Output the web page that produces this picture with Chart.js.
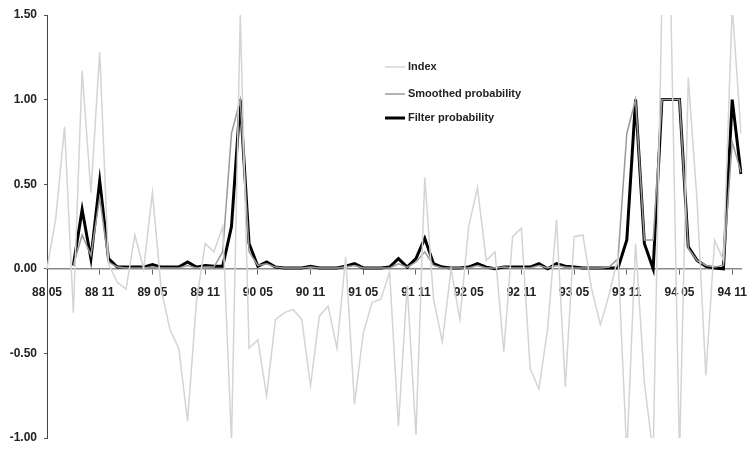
<!DOCTYPE html>
<html>
<head>
<meta charset="utf-8">
<script src="https://cdn.jsdelivr.net/npm/chart.js@4.4.1/dist/chart.umd.min.js"></script>
<style>
  html, body { margin: 0; padding: 0; background: #ffffff; }
  #wrap { width: 749px; height: 449px; position: relative; }
</style>
</head>
<body>
<div id="wrap"><canvas id="chart" width="749" height="449"></canvas></div>
<script>
// Monthly observations, May 1988 to December 1994
const months = [
  '88 05','88 06','88 07','88 08','88 09','88 10','88 11','88 12',
  '89 01','89 02','89 03','89 04','89 05','89 06','89 07','89 08','89 09','89 10','89 11','89 12',
  '90 01','90 02','90 03','90 04','90 05','90 06','90 07','90 08','90 09','90 10','90 11','90 12',
  '91 01','91 02','91 03','91 04','91 05','91 06','91 07','91 08','91 09','91 10','91 11','91 12',
  '92 01','92 02','92 03','92 04','92 05','92 06','92 07','92 08','92 09','92 10','92 11','92 12',
  '93 01','93 02','93 03','93 04','93 05','93 06','93 07','93 08','93 09','93 10','93 11','93 12',
  '94 01','94 02','94 03','94 04','94 05','94 06','94 07','94 08','94 09','94 10','94 11','94 12'
];

// Labelled months on the horizontal axis
const tickMonths = ['88 05','88 11','89 05','89 11','90 05','90 11','91 05','91 11',
                    '92 05','92 11','93 05','93 11','94 05','94 11'];

const indexValues = [
  0.00, 0.30, 0.84, -0.26, 1.17, 0.45, 1.28, 0.03,
  -0.08, -0.12, 0.20, 0.00, 0.45, -0.12, -0.36, -0.47, -0.90, -0.20, 0.15, 0.10,
  0.25, -1.02, 1.50, -0.47, -0.42, -0.75, -0.30, -0.26, -0.24, -0.30, -0.69, -0.28,
  -0.22, -0.47, 0.07, -0.80, -0.38, -0.20, -0.18, -0.02, -0.93, -0.10, -0.98, 0.54,
  -0.18, -0.43, 0.00, -0.30, 0.25, 0.48, 0.05, 0.10, -0.49, 0.19, 0.24, -0.59,
  -0.71, -0.35, 0.29, -0.70, 0.19, 0.20, -0.12, -0.33, -0.15, 0.07, -1.10, 0.15,
  -0.67, -1.10, 1.60, 1.60, -1.10, 1.13, 0.40, -0.63, 0.17, 0.05, 1.55, 0.80
];

const smoothedProb = [
  null, null, null, 0.02, 0.20, 0.08, 0.42, 0.04,
  0.01, 0.005, 0.005, 0.005, 0.01, 0.005, 0.005, 0.005, 0.02, 0.005, 0.01, 0.01,
  0.10, 0.80, 1.00, 0.10, 0.02, 0.03, 0.01, 0.005, 0.005, 0.005, 0.01, 0.005,
  0.005, 0.005, 0.01, 0.02, 0.005, 0.005, 0.005, 0.005, 0.03, 0.01, 0.04, 0.10,
  0.02, 0.005, 0.005, 0.005, 0.005, 0.02, 0.005, 0.005, 0.01, 0.005, 0.005, 0.005,
  0.02, 0.005, 0.02, 0.01, 0.005, 0.005, 0.005, 0.005, 0.01, 0.06, 0.80, 1.00,
  0.17, 0.17, 1.00, 1.00, 1.00, 0.12, 0.05, 0.02, 0.01, 0.02, 0.75, 0.57
];

const filterProb = [
  null, null, null, 0.02, 0.35, 0.06, 0.52, 0.06,
  0.01, 0.01, 0.01, 0.01, 0.025, 0.01, 0.01, 0.01, 0.04, 0.01, 0.02, 0.015,
  0.015, 0.25, 1.00, 0.15, 0.015, 0.04, 0.01, 0.005, 0.005, 0.005, 0.015, 0.005,
  0.005, 0.005, 0.015, 0.03, 0.005, 0.005, 0.005, 0.01, 0.06, 0.01, 0.06, 0.18,
  0.03, 0.01, 0.005, 0.005, 0.01, 0.03, 0.01, 0.00, 0.01, 0.01, 0.01, 0.01,
  0.03, 0.00, 0.03, 0.015, 0.01, 0.005, 0.005, 0.005, 0.005, 0.005, 0.17, 1.00,
  0.15, 0.00, 1.00, 1.00, 1.00, 0.13, 0.05, 0.015, 0.005, 0.00, 1.00, 0.56
];

const yTicks = [-1.0, -0.5, 0.0, 0.5, 1.0, 1.5];

const labelFont = { family: '"Liberation Sans", Arial, sans-serif', size: 12, weight: 'bold' };

// Strip the label-driven padding so the plot edges follow layout.padding
function noScalePadding(s) {
  s.paddingLeft = 0; s.paddingRight = 0; s.paddingTop = 0; s.paddingBottom = 0;
}

// Legend drawn inside the plot, to the right of centre
const insideLegend = {
  id: 'insideLegend',
  afterDatasetsDraw(chart) {
    const ctx = chart.ctx;
    const x0 = 385, x1 = 405, tx = 408;
    const rows = [67, 94, 118];
    ctx.save();
    ctx.font = 'bold 11px "Liberation Sans", Arial, sans-serif';
    ctx.textBaseline = 'middle';
    chart.data.datasets.forEach((ds, i) => {
      const y = rows[i];
      ctx.strokeStyle = ds.borderColor;
      ctx.lineWidth = ds.borderWidth;
      ctx.beginPath();
      ctx.moveTo(x0, y);
      ctx.lineTo(x1, y);
      ctx.stroke();
      ctx.fillStyle = '#222';
      ctx.fillText(ds.label, tx, y);
    });
    ctx.restore();
  }
};

new Chart(document.getElementById('chart'), {
  type: 'line',
  data: {
    labels: months,
    datasets: [
      { label: 'Index', data: indexValues, borderColor: '#d4d4d4', borderWidth: 1.5,
        pointRadius: 0, tension: 0 },
      { label: 'Smoothed probability', data: smoothedProb, borderColor: '#9a9a9a', borderWidth: 1.5,
        pointRadius: 0, tension: 0 },
      { label: 'Filter probability', data: filterProb, borderColor: '#000000', borderWidth: 3,
        pointRadius: 0, tension: 0 }
    ]
  },
  options: {
    responsive: false,
    animation: false,
    layout: { padding: { left: 0, right: 8, top: 15, bottom: 11 } },
    plugins: { legend: { display: false }, tooltip: { enabled: false } },
    scales: {
      x: {
        type: 'category',
        position: { y: 0 },
        offset: false,
        afterFit: noScalePadding,
        grid: {
          drawOnChartArea: false,
          drawTicks: true,
          tickLength: 5,
          color: (c) => (c.tick && tickMonths.includes(c.tick.label)) ? '#666' : 'rgba(0,0,0,0)'
        },
        border: { display: true, color: '#8a8a8a', width: 1.5 },
        ticks: {
          autoSkip: false,
          maxRotation: 0,
          minRotation: 0,
          padding: 12,
          color: '#222',
          font: labelFont,
          callback: (v, i) => tickMonths.includes(months[i]) ? months[i] : ''
        }
      },
      y: {
        min: -1.0,
        max: 1.5,
        afterFit: (s) => { s.width = 47; noScalePadding(s); },
        afterBuildTicks: (s) => { s.ticks = yTicks.map(v => ({ value: v })); },
        grid: { drawOnChartArea: false, drawTicks: true, tickLength: 3, color: '#555' },
        border: { display: true, color: '#444', width: 1 },
        ticks: {
          padding: 7,
          color: '#222',
          font: labelFont,
          callback: (v) => v.toFixed(2)
        }
      }
    }
  },
  plugins: [insideLegend]
});
</script>
</body>
</html>
